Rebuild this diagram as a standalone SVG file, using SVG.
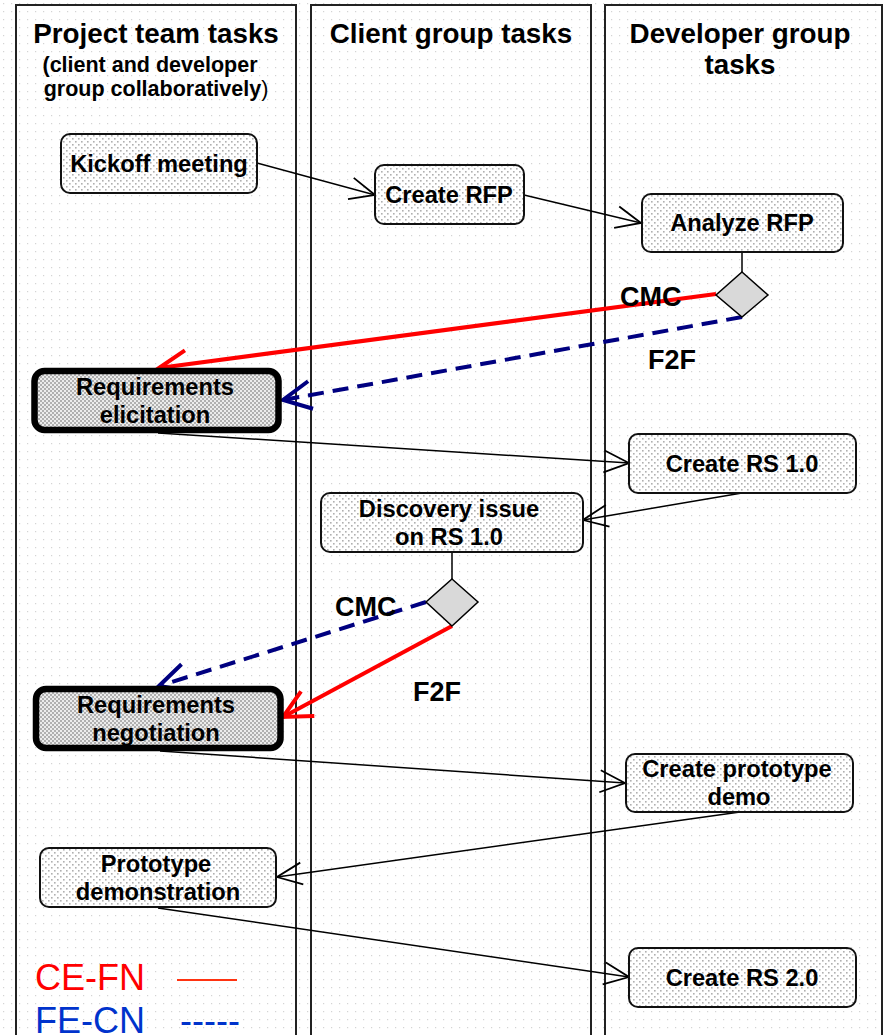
<svg xmlns="http://www.w3.org/2000/svg" width="883" height="1035" viewBox="0 0 883 1035">
<style>
text{font-family:"Liberation Sans",Arial,sans-serif;fill:#000}
.title{font-size:27.8px;font-weight:bold;text-anchor:middle}
.sub{font-size:21.5px;font-weight:bold;text-anchor:middle}
.nt{font-size:23.7px;font-weight:bold;text-anchor:middle}
.lbl{font-size:27px;font-weight:bold}
.lane{fill:none;stroke:#222;stroke-width:2}
.node{fill:url(#nodefill);stroke:#111;stroke-width:2}
.thick{fill:url(#thickfill);stroke:#000;stroke-width:6.5}
.dia{fill:#d9d9d9;stroke:#000;stroke-width:1.5}
.conn{fill:none;stroke:#000;stroke-width:1.5;marker-end:url(#ab)}
.plain{fill:none;stroke:#000;stroke-width:1.5}
.red{fill:none;stroke:#ff0000;stroke-width:4;marker-end:url(#ar)}
.blue{fill:none;stroke:#000080;stroke-width:4;stroke-dasharray:16 9;marker-end:url(#an)}
</style>
<defs>
<pattern id="bgdots" width="8" height="8" patternUnits="userSpaceOnUse">
<rect width="8" height="8" fill="#ffffff"/>
<rect x="3" y="3" width="1.2" height="1.2" fill="#d4d4d4"/>
</pattern>
<pattern id="nodefill" width="6" height="6" patternUnits="userSpaceOnUse">
<rect width="6" height="6" fill="#ffffff"/>
<rect x="0" y="0" width="1.6" height="1.6" fill="#b0b0b0"/>
<rect x="3" y="3" width="1.6" height="1.6" fill="#b0b0b0"/>
</pattern>
<pattern id="thickfill" width="4" height="4" patternUnits="userSpaceOnUse">
<rect width="4" height="4" fill="#ececec"/>
<rect x="0" y="0" width="2" height="2" fill="#b0b0b0"/>
<rect x="2" y="2" width="2" height="2" fill="#b0b0b0"/>
</pattern>
<marker id="ab" markerUnits="userSpaceOnUse" viewBox="-30 -15 32 30" refX="0" refY="0" markerWidth="32" markerHeight="30" orient="auto">
<path d="M-25,-11 L0,0 L-25,11" fill="none" stroke="#000" stroke-width="1.8"/>
</marker>
<marker id="ar" markerUnits="userSpaceOnUse" viewBox="-34 -18 38 36" refX="0" refY="0" markerWidth="38" markerHeight="36" orient="auto">
<path d="M-28,-14 L0,0 L-28,14" fill="none" stroke="#ff0000" stroke-width="4"/>
</marker>
<marker id="an" markerUnits="userSpaceOnUse" viewBox="-34 -18 38 36" refX="0" refY="0" markerWidth="38" markerHeight="36" orient="auto">
<path d="M-28,-14 L0,0 L-28,14" fill="none" stroke="#000080" stroke-width="4"/>
</marker>
</defs>
<rect width="883" height="1035" fill="url(#bgdots)"/>

<g id="lane-project">
<rect class="lane" x="16" y="5" width="280" height="1040"/>
<text class="title" x="156" y="43">Project team tasks</text>
<text class="sub" x="150" y="72">(client and developer</text>
<text class="sub" x="156" y="96">group collaboratively<tspan font-weight="normal">)</tspan></text>
</g>
<g id="lane-client">
<rect class="lane" x="311" y="5" width="280" height="1040"/>
<text class="title" x="451" y="43">Client group tasks</text>
</g>
<g id="lane-developer">
<rect class="lane" x="605" y="5" width="277" height="1040"/>
<text class="title" x="740" y="43">Developer group</text>
<text class="title" x="740" y="74">tasks</text>
</g>

<g id="connectors">
<line class="conn" x1="257" y1="163" x2="375" y2="195"/>
<line class="conn" x1="524" y1="195" x2="641" y2="223"/>
<line class="plain" x1="742" y1="252" x2="742" y2="272"/>
<line class="red" x1="716" y1="294" x2="159" y2="368"/>
<line class="blue" x1="742" y1="317" x2="283" y2="400"/>
<line class="conn" x1="158" y1="433" x2="629" y2="463"/>
<line class="conn" x1="742" y1="493" x2="583" y2="520"/>
<line class="plain" x1="452" y1="552" x2="452" y2="579"/>
<line class="blue" x1="426" y1="602" x2="159" y2="686"/>
<line class="red" x1="452" y1="626" x2="283" y2="717"/>
<line class="conn" x1="160" y1="751" x2="625" y2="783"/>
<line class="conn" x1="740" y1="812" x2="277" y2="877"/>
<line class="conn" x1="158" y1="908" x2="629" y2="977"/>
</g>

<g id="node-kickoff">
<rect class="node" x="61" y="134" width="196" height="59" rx="9"/>
<text class="nt" x="159" y="172">Kickoff meeting</text>
</g>
<g id="node-create-rfp">
<rect class="node" x="375" y="165" width="149" height="59" rx="9"/>
<text class="nt" x="449" y="203">Create RFP</text>
</g>
<g id="node-analyze-rfp">
<rect class="node" x="642" y="194" width="201" height="58" rx="9"/>
<text class="nt" x="742" y="231">Analyze RFP</text>
</g>
<g id="decision-1">
<polygon class="dia" points="742,272 768,295 742,317 716,295"/>
</g>
<g id="label-cmc-1"><text class="lbl" x="620" y="306">CMC</text></g>
<g id="label-f2f-1"><text class="lbl" x="648" y="369">F2F</text></g>
<g id="node-req-elicitation">
<rect class="thick" x="34.5" y="371" width="244" height="59" rx="10"/>
<text class="nt" x="155" y="395">Requirements</text>
<text class="nt" x="155" y="423">elicitation</text>
</g>
<g id="node-create-rs1">
<rect class="node" x="629" y="434" width="227" height="59" rx="9"/>
<text class="nt" x="742" y="472">Create RS 1.0</text>
</g>
<g id="node-discovery">
<rect class="node" x="321" y="493" width="262" height="59" rx="9"/>
<text class="nt" x="449" y="517">Discovery issue</text>
<text class="nt" x="449" y="545">on RS 1.0</text>
</g>
<g id="decision-2">
<polygon class="dia" points="452,579 478,602 452,626 426,602"/>
</g>
<g id="label-cmc-2"><text class="lbl" x="335" y="616">CMC</text></g>
<g id="label-f2f-2"><text class="lbl" x="413" y="701">F2F</text></g>
<g id="node-req-negotiation">
<rect class="thick" x="36" y="689" width="244.5" height="59" rx="10"/>
<text class="nt" x="156" y="713">Requirements</text>
<text class="nt" x="156" y="741">negotiation</text>
</g>
<g id="node-create-prototype">
<rect class="node" x="626" y="754" width="227" height="58" rx="9"/>
<text class="nt" x="737" y="777">Create prototype</text>
<text class="nt" x="739" y="805">demo</text>
</g>
<g id="node-prototype-demo">
<rect class="node" x="40" y="848" width="236" height="59" rx="9"/>
<text class="nt" x="156" y="872">Prototype</text>
<text class="nt" x="158" y="900">demonstration</text>
</g>
<g id="node-create-rs2">
<rect class="node" x="629" y="948" width="227" height="59" rx="9"/>
<text class="nt" x="742" y="986">Create RS 2.0</text>
</g>

<g id="legend">
<text x="35" y="990" font-size="36" style="fill:#ff0000">CE-FN</text>
<line x1="177" y1="980" x2="237" y2="980" stroke="#ff3311" stroke-width="2"/>
<text x="35" y="1033" font-size="36" style="fill:#0033cc">FE-CN</text>
<text x="180" y="1033" font-size="36" style="fill:#0033cc">-----</text>
</g>
</svg>
